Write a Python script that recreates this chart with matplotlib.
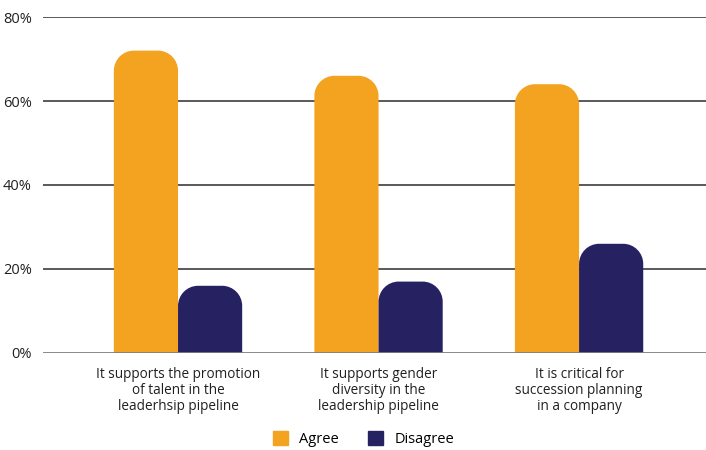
import matplotlib.pyplot as plt
from matplotlib.path import Path
from matplotlib.patches import PathPatch, Patch
import numpy as np

categories = [
    "It supports the promotion\nof talent in the\nleaderhsip pipeline",
    "It supports gender\ndiversity in the\nleadership pipeline",
    "It is critical for\nsuccession planning\nin a company",
]
agree = [72, 66, 64]
disagree = [16, 17, 26]
yticks = [0, 20, 40, 60, 80]
ytick_labels = ["0%", "20%", "40%", "60%", "80%"]

orange = "#F4A321"
navy = "#262262"

plt.rcParams["font.family"] = ["Open Sans", "DejaVu Sans"]

fig = plt.figure(figsize=(7.06, 4.5), dpi=100)
ax = fig.add_axes([0.061, 0.2156, 0.939, 0.7466])

x = np.arange(len(categories))
w = 0.32
bars_a = ax.bar(x - w / 2, agree, w, color=orange)
bars_d = ax.bar(x + w / 2, disagree, w, color=navy)

ax.set_xlim(-0.673, 2.633)
ax.set_ylim(0, 80)

# swap the square bars for ones with rounded top corners
rx, ry = 0.1, 4.8
k = 0.5523
for bars in (bars_a, bars_d):
    for r in bars:
        x0, y0 = r.get_x(), r.get_y()
        x1, y1 = x0 + r.get_width(), y0 + r.get_height()
        verts = [
            (x0, y0), (x0, y1 - ry),
            (x0, y1 - ry + k * ry), (x0 + rx - k * rx, y1), (x0 + rx, y1),
            (x1 - rx, y1),
            (x1 - rx + k * rx, y1), (x1, y1 - ry + k * ry), (x1, y1 - ry),
            (x1, y0), (x0, y0),
        ]
        codes = [Path.MOVETO, Path.LINETO,
                 Path.CURVE4, Path.CURVE4, Path.CURVE4,
                 Path.LINETO,
                 Path.CURVE4, Path.CURVE4, Path.CURVE4,
                 Path.LINETO, Path.CLOSEPOLY]
        ax.add_patch(PathPatch(Path(verts, codes), facecolor=r.get_facecolor(),
                               edgecolor="none", zorder=3))
        r.set_visible(False)

for y in yticks[1:]:
    ax.axhline(y, color="#58595B", lw=1.4, zorder=1)
ax.axhline(0, color="#7d7d7f", lw=2, zorder=4)

ax.set_yticks(yticks)
ax.set_yticklabels(ytick_labels, fontsize=10.5, color="#231F20")
ax.tick_params(axis="y", length=0, pad=8)
ax.set_xticks(x)
ax.set_xticklabels(categories, fontsize=9.8, color="#231F20", linespacing=1.1)
ax.tick_params(axis="x", length=0, pad=10)
for s in ax.spines.values():
    s.set_visible(False)

handles = [Patch(color=orange, label="Agree"), Patch(color=navy, label="Disagree")]
fig.legend(handles=handles, loc="center", bbox_to_anchor=(0.515, 0.024), ncol=2,
           frameon=False, fontsize=10.5, handlelength=1.0, handleheight=1.1,
           columnspacing=2.0, handletextpad=0.8)

fig.savefig("out.png", dpi=100)
